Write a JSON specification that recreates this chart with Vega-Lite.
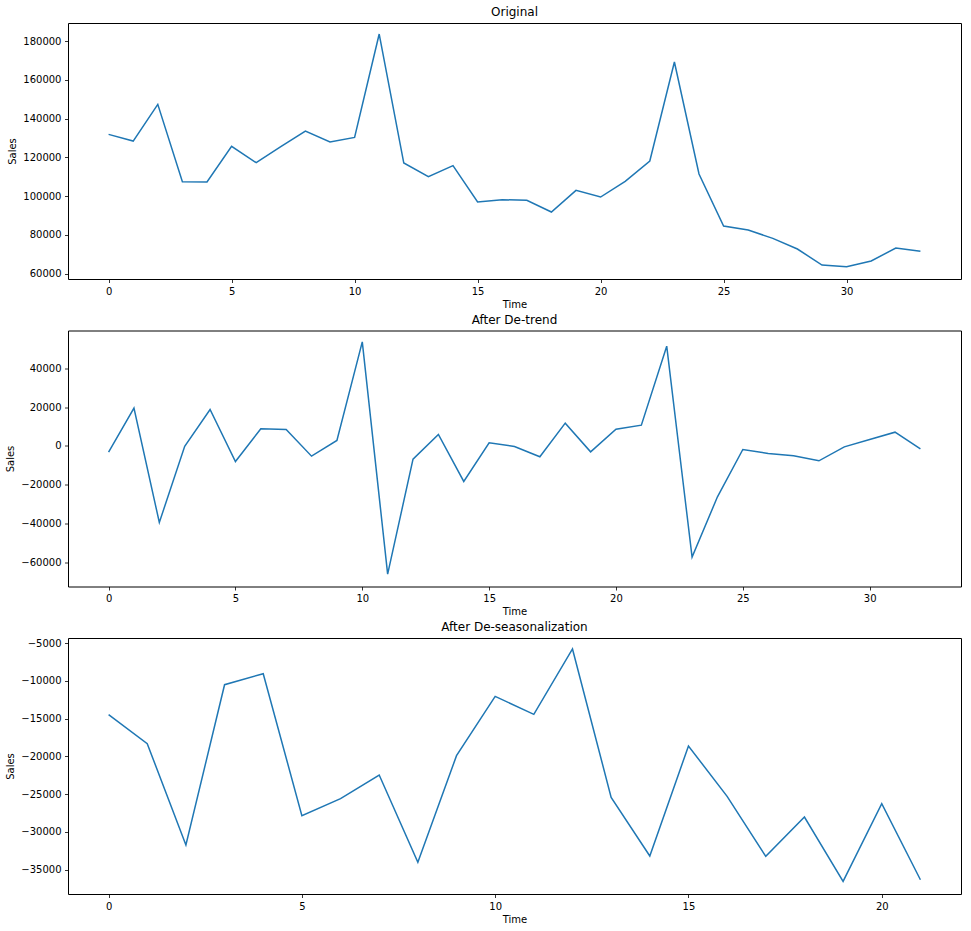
{
  "$schema": "https://vega.github.io/schema/vega-lite/v6.json",
  "padding": {"left": 5, "top": 5, "right": 9, "bottom": 2},
  "background": "white",
  "spacing": 2.5,
  "datasets": {
    "orig": [
      {"Time": 0, "Sales": 131860}, {"Time": 1, "Sales": 128400}, {"Time": 2, "Sales": 147330},
      {"Time": 3, "Sales": 107450}, {"Time": 4, "Sales": 107280}, {"Time": 5, "Sales": 125670},
      {"Time": 6, "Sales": 117250}, {"Time": 7, "Sales": 125500}, {"Time": 8, "Sales": 133580},
      {"Time": 9, "Sales": 127900}, {"Time": 10, "Sales": 130310}, {"Time": 11, "Sales": 183610},
      {"Time": 12, "Sales": 117070}, {"Time": 13, "Sales": 110020}, {"Time": 14, "Sales": 115700},
      {"Time": 15, "Sales": 96960}, {"Time": 16, "Sales": 98160}, {"Time": 17, "Sales": 97820},
      {"Time": 18, "Sales": 91800}, {"Time": 19, "Sales": 102970}, {"Time": 20, "Sales": 99540},
      {"Time": 21, "Sales": 107620}, {"Time": 22, "Sales": 118100}, {"Time": 23, "Sales": 169170},
      {"Time": 24, "Sales": 111400}, {"Time": 25, "Sales": 84580}, {"Time": 26, "Sales": 82520},
      {"Time": 27, "Sales": 78220}, {"Time": 28, "Sales": 72710}, {"Time": 29, "Sales": 64460},
      {"Time": 30, "Sales": 63600}, {"Time": 31, "Sales": 66530}, {"Time": 32, "Sales": 73240},
      {"Time": 33, "Sales": 71520}
    ],
    "detrend": [
      {"Time": 0, "Sales": -3220}, {"Time": 1, "Sales": 19420}, {"Time": 2, "Sales": -39400},
      {"Time": 3, "Sales": -200}, {"Time": 4, "Sales": 18730}, {"Time": 5, "Sales": -8020},
      {"Time": 6, "Sales": 8790}, {"Time": 7, "Sales": 8440}, {"Time": 8, "Sales": -5280},
      {"Time": 9, "Sales": 2780}, {"Time": 10, "Sales": 53550}, {"Time": 11, "Sales": -65990},
      {"Time": 12, "Sales": -6820}, {"Time": 13, "Sales": 5870}, {"Time": 14, "Sales": -18310},
      {"Time": 15, "Sales": 1580}, {"Time": 16, "Sales": -300}, {"Time": 17, "Sales": -5620},
      {"Time": 18, "Sales": 11700}, {"Time": 19, "Sales": -3050}, {"Time": 20, "Sales": 8620},
      {"Time": 21, "Sales": 10670}, {"Time": 22, "Sales": 51320}, {"Time": 23, "Sales": -57240},
      {"Time": 24, "Sales": -26200}, {"Time": 25, "Sales": -1850}, {"Time": 26, "Sales": -3900},
      {"Time": 27, "Sales": -5100}, {"Time": 28, "Sales": -7680}, {"Time": 29, "Sales": -480},
      {"Time": 30, "Sales": 3300}, {"Time": 31, "Sales": 7070}, {"Time": 32, "Sales": -1500}
    ],
    "deseason": [
      {"Time": 0, "Sales": -14490}, {"Time": 1, "Sales": -18320}, {"Time": 2, "Sales": -31740},
      {"Time": 3, "Sales": -10520}, {"Time": 4, "Sales": -9060}, {"Time": 5, "Sales": -27850},
      {"Time": 6, "Sales": -25600}, {"Time": 7, "Sales": -22470}, {"Time": 8, "Sales": -34030},
      {"Time": 9, "Sales": -19910}, {"Time": 10, "Sales": -12060}, {"Time": 11, "Sales": -14440},
      {"Time": 12, "Sales": -5790}, {"Time": 13, "Sales": -25430}, {"Time": 14, "Sales": -33190},
      {"Time": 15, "Sales": -18630}, {"Time": 16, "Sales": -25300}, {"Time": 17, "Sales": -33240},
      {"Time": 18, "Sales": -28030}, {"Time": 19, "Sales": -36550}, {"Time": 20, "Sales": -26270},
      {"Time": 21, "Sales": -36330}
    ]
  },
  "config": {
    "font": "DejaVu Sans",
    "view": {"stroke": "black", "strokeWidth": 1},
    "axis": {
      "grid": false,
      "domain": false,
      "tickColor": "black",
      "tickSize": 3.5,
      "tickWidth": 0.8,
      "labelPadding": 3.5,
      "labelFontSize": 10,
      "labelColor": "black",
      "labelFont": "DejaVu Sans",
      "titleFont": "DejaVu Sans",
      "titleFontSize": 10,
      "titleFontWeight": "normal",
      "titleColor": "black",
      "labelFlush": false,
      "labelOverlap": false
    },
    "axisX": {"titlePadding": 3},
    "axisY": {"titlePadding": 5},
    "title": {"font": "DejaVu Sans", "fontSize": 12, "fontWeight": "normal", "color": "black", "anchor": "middle", "frame": "group", "offset": 4},
    "line": {"color": "#1f77b4", "strokeWidth": 1.5}
  },
  "vconcat": [
    {
      "title": "Original",
      "width": 893,
      "height": 256,
      "data": {"name": "orig"},
      "mark": {"type": "line", "clip": true},
      "encoding": {
        "x": {"field": "Time", "type": "quantitative", "scale": {"domain": [-1.65, 34.65], "nice": false, "zero": false},
              "axis": {"values": [0, 5, 10, 15, 20, 25, 30], "format": "d", "title": "Time"}},
        "y": {"field": "Sales", "type": "quantitative", "scale": {"domain": [57250, 189300], "nice": false, "zero": false},
              "axis": {"values": [60000, 80000, 100000, 120000, 140000, 160000, 180000], "format": "d", "title": "Sales"}}
      }
    },
    {
      "title": "After De-trend",
      "width": 893,
      "height": 256,
      "data": {"name": "detrend"},
      "mark": {"type": "line", "clip": true},
      "encoding": {
        "x": {"field": "Time", "type": "quantitative", "scale": {"domain": [-1.6, 33.6], "nice": false, "zero": false},
              "axis": {"values": [0, 5, 10, 15, 20, 25, 30], "format": "d", "title": "Time"}},
        "y": {"field": "Sales", "type": "quantitative", "scale": {"domain": [-72350, 59380], "nice": false, "zero": false},
              "axis": {"values": [-60000, -40000, -20000, 0, 20000, 40000], "format": "d", "title": "Sales"}}
      }
    },
    {
      "title": "After De-seasonalization",
      "width": 893,
      "height": 256,
      "data": {"name": "deseason"},
      "mark": {"type": "line", "clip": true},
      "encoding": {
        "x": {"field": "Time", "type": "quantitative", "scale": {"domain": [-1.05, 22.05], "nice": false, "zero": false},
              "axis": {"values": [0, 5, 10, 15, 20], "format": "d", "title": "Time"}},
        "y": {"field": "Sales", "type": "quantitative", "scale": {"domain": [-38220, -4338], "nice": false, "zero": false},
              "axis": {"values": [-35000, -30000, -25000, -20000, -15000, -10000, -5000], "format": "d", "title": "Sales"}}
      }
    }
  ]
}
